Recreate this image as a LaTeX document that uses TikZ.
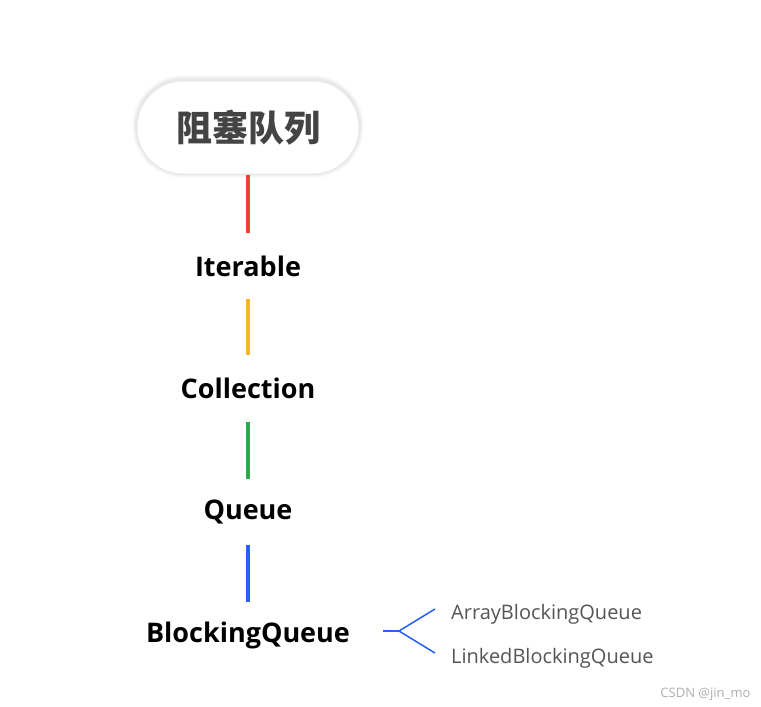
\documentclass[tikz,border=0pt]{standalone}
\usepackage{fontspec}
\setmainfont{Open Sans}
\newfontfamily\cjkfont{Noto Sans CJK SC}
\usetikzlibrary{calc}
\definecolor{cred}{RGB}{234,67,53}
\definecolor{corange}{RGB}{246,182,42}
\definecolor{cgreen}{RGB}{42,170,74}
\definecolor{cblue}{RGB}{38,96,246}
\definecolor{ctext}{RGB}{68,68,68}
\definecolor{csub}{RGB}{85,85,85}
\tikzset{
  lvl/.style={font=\fontsize{27}{30}\selectfont\bfseries, text=black, inner sep=0pt, minimum height=66pt},
  sub/.style={font=\fontsize{20}{23}\selectfont, text=csub, inner xsep=16pt, inner ysep=0pt, anchor=west},
  conn/.style={line width=3.5pt},
}
\begin{document}
\begin{tikzpicture}[x=1pt,y=-1pt]
\useasboundingbox (0,0) rectangle (761,707);
\fill[white] (0,0) rectangle (761,707);
% root pill shadow
\foreach \i/\o in {5/0.02,3.5/0.03,2/0.035} {
  \fill[black, opacity=\o, rounded corners=46+\i] (137-\i,80-\i) rectangle (359+\i,173+\i);
}
\node[draw={rgb,255:red,232;green,232;blue,232}, fill=white, line width=1pt, rounded corners=46pt,
  minimum width=222pt, minimum height=93pt, inner sep=0pt,
  font=\cjkfont\fontsize{36}{40}\selectfont\bfseries, text=ctext] (root) at (248,127.5) {阻塞队列};
\node[lvl] (it) at (248,266) {Iterable};
\node[lvl] (col) at (248,388.5) {Collection};
\node[lvl] (q) at (248,512) {Queue};
\node[lvl] (bq) at (248,635) {BlockingQueue};
\draw[conn, cred] (root.south) -- (it.north);
\draw[conn, corange] (it.south) -- (col.north);
\draw[conn, cgreen] (col.south) -- (q.north);
\draw[conn, cblue] (q.south) -- (bq.north);
\node[sub] (arr) at (435,614.5) {ArrayBlockingQueue};
\node[sub] (lnk) at (435,658.5) {LinkedBlockingQueue};
\coordinate (stub) at (383,631);
\coordinate (fork) at (399,631);
\draw[cblue, line width=1.5pt] (stub) -- (fork);
\draw[cblue, line width=1.5pt] (fork) -- ([yshift=5.5pt]arr.west);
\draw[cblue, line width=1.5pt] (fork) -- ([yshift=5.5pt]lnk.west);
\node[font=\fontsize{13}{15}\selectfont, text={rgb,255:red,175;green,175;blue,175}, anchor=east] (wm) at (754,694) {CSDN @jin\_mo};
\end{tikzpicture}
\end{document}
